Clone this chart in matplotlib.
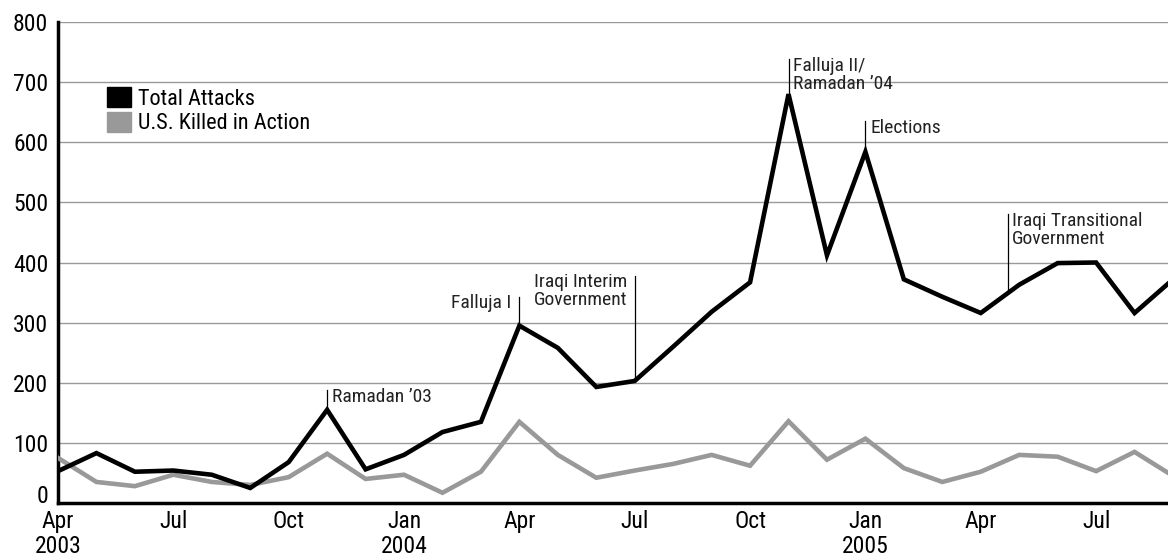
import numpy as np
import matplotlib.pyplot as plt
from matplotlib.patches import Patch

plt.rcParams['font.family'] = ['Roboto Condensed', 'Archivo Narrow', 'PT Sans Narrow',
                               'Liberation Sans Narrow', 'DejaVu Sans']

# monthly data, Apr 2003 .. Sep 2005
months = ['Apr\n2003', '', '', 'Jul', '', '', 'Oct', '', '', 'Jan\n2004', '', '',
          'Apr', '', '', 'Jul', '', '', 'Oct', '', '', 'Jan\n2005', '', '',
          'Apr', '', '', 'Jul', '', '']
total_attacks = [53, 83, 52, 54, 47, 25, 68, 155, 56, 80, 118, 135,
                 295, 258, 193, 203, 260, 318, 367, 680, 412, 584, 372, 343,
                 316, 363, 399, 400, 316, 372]
us_kia = [75, 35, 28, 47, 35, 30, 43, 82, 40, 47, 17, 52,
          135, 80, 42, 54, 65, 80, 62, 136, 72, 107, 58, 35,
          52, 80, 77, 53, 85, 45]

# (month index, label, text side, line top value)
events = [
    (7, "Ramadan \u201903", 'right', 188),
    (12, "Falluja I", 'left', 343),
    (15, "Iraqi Interim\nGovernment", 'left', 378),
    (19, "Falluja II/\nRamadan \u201904", 'right', 738),
    (21, "Elections", 'right', 635),
    (24.7, "Iraqi Transitional\nGovernment", 'right', 480),
]

x = np.arange(len(total_attacks))

fig = plt.figure(figsize=(11.68, 5.57), dpi=100)
ax = fig.add_axes([58 / 1168, 54 / 557, 1 - 58 / 1168, 481 / 557])

for v in range(100, 900, 100):
    ax.axhline(v, color='#999999', lw=1.0, zorder=1)

ax.plot(x, us_kia, color='#999999', lw=3.3, zorder=3, solid_joinstyle='miter')
ax.plot(x, total_attacks, color='black', lw=3.3, zorder=4, solid_joinstyle='miter')

for xi, label, side, top in events:
    yi = np.interp(xi, x, total_attacks)
    ax.plot([xi, xi], [yi, top], color='black', lw=0.9, zorder=5)
    if side == 'right':
        ax.text(xi + 0.12, top + 4, label, ha='left', va='top', fontsize=14,
                linespacing=1.0, color='#222222')
    else:
        ax.text(xi - 0.2, top + 4, label, ha='right', va='top', fontsize=14,
                linespacing=1.0, color='#222222')

ax.set_xlim(0, 28.87)
ax.set_ylim(0, 800)
ax.set_xticks(x[::3])
ax.set_xticklabels([m for m in months[::3]], fontsize=17, linespacing=1.1)
ax.set_yticks(range(0, 900, 100))
ax.set_yticklabels([str(v) for v in range(0, 900, 100)], fontsize=17)
ax.get_yticklabels()[0].set_verticalalignment('baseline')
ax.tick_params(length=0, pad=7)
ax.tick_params(axis='x', pad=5)

for s in ['top', 'right']:
    ax.spines[s].set_visible(False)
ax.spines['left'].set_linewidth(2.5)
ax.spines['bottom'].set_linewidth(2.5)

handles = [Patch(color='black', label='Total Attacks'),
           Patch(color='#999999', label='U.S. Killed in Action')]
ax.legend(handles=handles, loc='upper left', bbox_to_anchor=(0.036, 0.883),
          frameon=False, fontsize=16, handlelength=1.1, handleheight=1.0,
          handletextpad=0.3, labelspacing=0.1, borderaxespad=0)

fig.savefig('out.png', dpi=100)
